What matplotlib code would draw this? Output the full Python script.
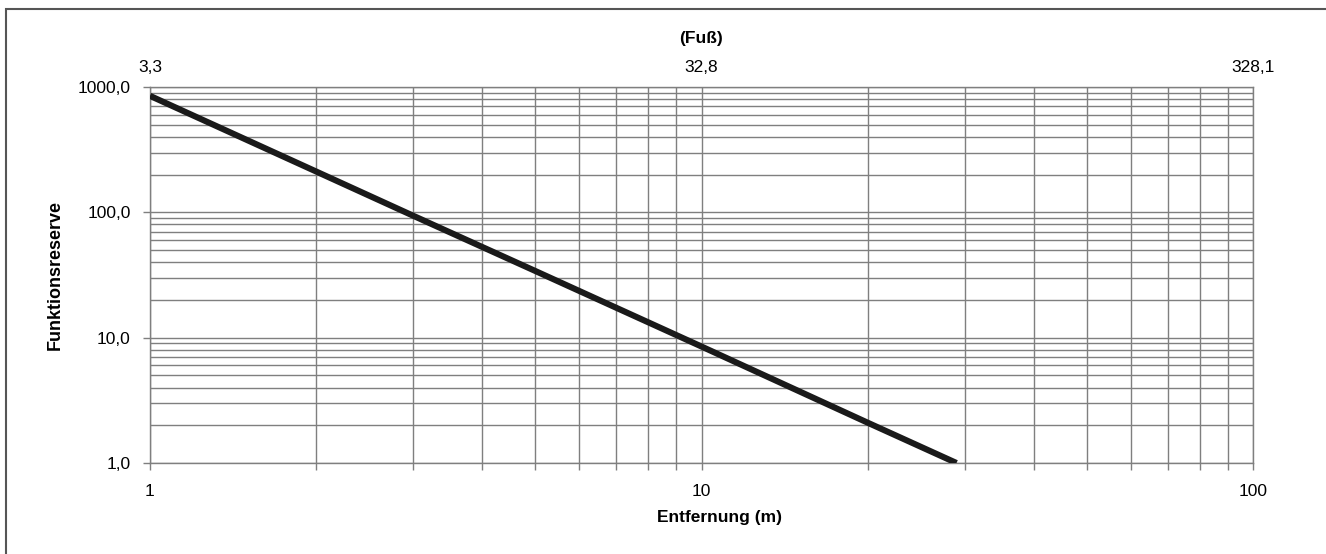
import matplotlib
matplotlib.use("Agg")
import matplotlib.pyplot as plt
from matplotlib.ticker import FixedLocator, LogLocator, NullFormatter, NullLocator
from matplotlib.patches import Rectangle

plt.rcParams["font.family"] = ["Liberation Sans", "DejaVu Sans"]
plt.rcParams["font.size"] = 12.5

# distance (m) vs. function reserve
dist_m = [1, 2, 3, 5, 10, 20, 29]
reserve = [850, 212, 94, 34, 8.5, 2.1, 1.0]

x_ticks = [1, 10, 100]
x_labels = ["1", "10", "100"]
y_ticks = [1, 10, 100, 1000]
y_labels = ["1,0", "10,0", "100,0", "1000,0"]
ft_labels = ["3,3", "32,8", "328,1"]

grid_c = "#7f7f7f"

fig = plt.figure(figsize=(13.26, 5.54), dpi=100)
ax = fig.add_axes([150 / 1326, 91 / 554, 1103 / 1326, 376 / 554])

ax.plot(dist_m, reserve, color="#1a1a1a", lw=4.4, solid_capstyle="butt", zorder=3)

ax.set_xscale("log")
ax.set_yscale("log")
ax.set_xlim(1, 100)
ax.set_ylim(1, 1000)

ax.xaxis.set_major_locator(FixedLocator(x_ticks))
ax.xaxis.set_minor_locator(LogLocator(base=10, subs=range(2, 10)))
ax.xaxis.set_minor_formatter(NullFormatter())
ax.set_xticklabels(x_labels)
ax.yaxis.set_major_locator(FixedLocator(y_ticks))
ax.yaxis.set_minor_locator(LogLocator(base=10, subs=range(2, 10)))
ax.yaxis.set_minor_formatter(NullFormatter())
ax.set_yticklabels(y_labels)

ax.grid(True, which="both", color=grid_c, lw=1.0)
ax.tick_params(axis="x", which="both", length=5, color=grid_c, width=1.0, pad=10)
ax.tick_params(axis="y", which="major", length=5, color=grid_c, width=1.0, pad=9)
ax.tick_params(axis="y", which="minor", length=0)
for s in ax.spines.values():
    s.set_color(grid_c)
    s.set_linewidth(1.0)

ax.set_xlabel("Entfernung (m)", fontweight="bold", fontsize=12.5)
ax.xaxis.set_label_coords(0.516, -0.125)
ax.set_ylabel("Funktionsreserve", fontweight="bold", fontsize=13, labelpad=10)

# top axis in feet
ax2 = ax.twiny()
ax2.set_xscale("log")
ax2.set_xlim(ax.get_xlim())
ax2.xaxis.set_major_locator(FixedLocator(x_ticks))
ax2.xaxis.set_minor_locator(NullLocator())
ax2.set_xticklabels(ft_labels)
ax2.tick_params(axis="x", length=0, pad=9)
for s in ax2.spines.values():
    s.set_visible(False)
ax2.set_xlabel("(Fuß)", fontweight="bold", fontsize=12.5, labelpad=12)

# outer frame
fig.patches.append(Rectangle((6 / 1326, -0.05), 1.1, (554 - 9) / 554 + 0.05,
                             transform=fig.transFigure, fill=False,
                             edgecolor="#555555", lw=1.5, clip_on=False))

fig.savefig("out.png", dpi=100)
